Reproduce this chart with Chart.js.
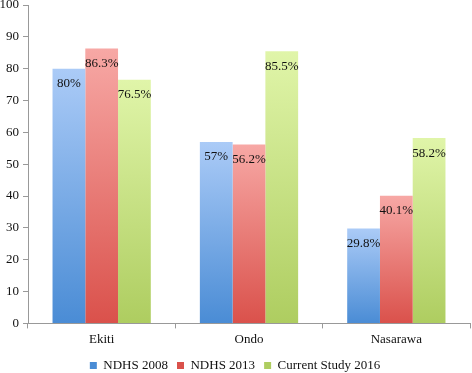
<!DOCTYPE html>
<html>
<head>
<meta charset="utf-8">
<script src="https://cdn.jsdelivr.net/npm/chart.js@4"></script>
<style>
  html, body { margin: 0; padding: 0; background: #fff; }
  #wrap { width: 472px; height: 373px; }
</style>
</head>
<body>
<div id="wrap"><canvas id="barChart" width="472" height="373"></canvas></div>
<script>
const regions = ['Ekiti', 'Ondo', 'Nasarawa'];
const ndhs2008 = [80, 57, 29.8];
const ndhs2013 = [86.3, 56.2, 40.1];
const study2016 = [76.5, 85.5, 58.2];
const yTicks = [0, 10, 20, 30, 40, 50, 60, 70, 80, 90, 100];

const serif = '"Liberation Serif", "Times New Roman", serif';

// vertical gradient per bar, light at top, darker at bottom
const barGradient = (top, bottom) => (ctx) => {
  const chart = ctx.chart;
  if (!chart.chartArea || ctx.type !== 'data') return bottom;
  const y = chart.scales.y;
  const y0 = y.getPixelForValue(ctx.raw);
  const y1 = y.getPixelForValue(0);
  const g = chart.ctx.createLinearGradient(0, y0, 0, y1 > y0 ? y1 : y0 + 1);
  g.addColorStop(0, top);
  g.addColorStop(1, bottom);
  return g;
};

// value labels just under the top of each bar
const valueLabels = {
  id: 'valueLabels',
  afterDatasetsDraw(chart) {
    const ctx = chart.ctx;
    ctx.save();
    ctx.font = '13px ' + serif;
    ctx.fillStyle = '#111';
    ctx.textAlign = 'center';
    ctx.textBaseline = 'middle';
    chart.data.datasets.forEach((ds, i) => {
      chart.getDatasetMeta(i).data.forEach((bar, j) => {
        ctx.fillText(ds.data[j] + '%', bar.x, bar.y + 15);
      });
    });
    ctx.restore();
  }
};

new Chart('barChart', {
  type: 'bar',
  data: {
    labels: regions,
    datasets: [
      { label: 'NDHS 2008', data: ndhs2008, backgroundColor: barGradient('#abcbf7', '#4a8cd5') },
      { label: 'NDHS 2013', data: ndhs2013, backgroundColor: barGradient('#f7a8a5', '#da514b') },
      { label: 'Current Study 2016', data: study2016, backgroundColor: barGradient('#e0f5a9', '#aecd60') }
    ]
  },
  options: {
    responsive: false,
    animation: false,
    layout: { padding: { top: 5, right: 2, left: 0, bottom: -9 } },
    categoryPercentage: 0.667,
    barPercentage: 1,
    plugins: {
      legend: {
        position: 'bottom',
        labels: {
          boxWidth: 7,
          boxHeight: 7,
          padding: 9,
          color: '#111',
          font: { family: serif, size: 13 }
        }
      },
      tooltip: { enabled: false }
    },
    scales: {
      x: {
        grid: { display: true, drawOnChartArea: false, offset: true, tickLength: 5, color: '#999' },
        border: { color: '#999' },
        ticks: { color: '#111', padding: 3, font: { family: serif, size: 13 } }
      },
      y: {
        min: 0,
        max: 100,
        afterBuildTicks: (scale) => { scale.ticks = yTicks.map(v => ({ value: v })); },
        afterFit: (scale) => { scale.width = 28; scale.paddingTop = 0; },
        grid: { display: true, drawOnChartArea: false, tickLength: 5, color: '#999' },
        border: { color: '#999' },
        ticks: { color: '#111', padding: 4, font: { family: serif, size: 13 } }
      }
    }
  },
  plugins: [valueLabels]
});
</script>
</body>
</html>
